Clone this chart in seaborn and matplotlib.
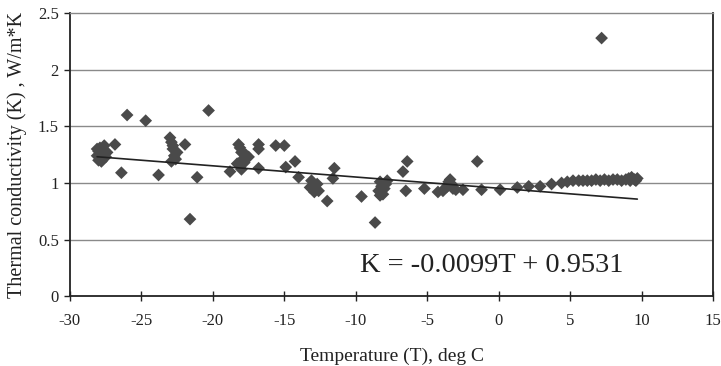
import numpy as np
import pandas as pd
import seaborn as sns
import matplotlib
matplotlib.use("Agg")
import matplotlib.pyplot as plt

# values
temp = [
    # cluster near -28
    -28.0, -28.1, -28.0, -27.9, -27.8, -27.7, -27.6, -27.5, -27.9, -28.1, -27.6, -27.8, -27.4, -27.7,
    -26.85, -26.0, -24.7, -26.4, -23.8, -21.1, -21.6, -20.3,
    # cluster near -23
    -23.0, -22.9, -22.8, -22.7, -22.9, -22.5, -22.8, -21.95, -22.6,
    # cluster near -18
    -18.2, -18.1, -18.0, -17.9, -17.5, -18.0, -18.3, -17.8, -17.7, -18.8,
    -16.8, -16.8, -16.8, -15.6, -15.0, -14.9, -14.25, -14.0,
    # cluster near -13
    -13.1, -13.0, -12.8, -12.9, -12.7, -13.2, -12.6,
    -12.0, -11.5, -11.6, -9.6, -8.65,
    # cluster near -8
    -8.3, -8.2, -8.4, -8.1, -7.9, -8.0, -7.8, -8.3,
    -6.4, -6.7, -6.5, -5.2, -4.25,
    # cluster near -3.5
    -3.9, -3.6, -3.5, -3.3, -3.2, -3.0, -3.4, -3.7,
    -2.5, -1.5, -1.2, 0.1, 1.3, 2.1, 2.9, 3.7,
    4.4, 4.8, 5.2, 5.6, 5.9, 6.2, 6.5, 6.8, 7.1, 7.4, 7.7, 8.0, 8.3, 8.6, 8.9,
    9.1, 9.3, 9.5, 9.7, 9.2, 9.6,
    7.2,
]
cond = [
    1.20, 1.24, 1.28, 1.31, 1.22, 1.26, 1.29, 1.23, 1.25, 1.30, 1.33, 1.19, 1.27, 1.21,
    1.34, 1.60, 1.55, 1.09, 1.07, 1.05, 0.68, 1.64,
    1.40, 1.36, 1.30, 1.24, 1.19, 1.27, 1.33, 1.34, 1.21,
    1.34, 1.31, 1.27, 1.21, 1.23, 1.12, 1.17, 1.18, 1.25, 1.10,
    1.34, 1.30, 1.13, 1.33, 1.33, 1.14, 1.19, 1.05,
    1.02, 0.98, 0.95, 0.92, 0.99, 0.96, 0.93,
    0.84, 1.13, 1.04, 0.88, 0.65,
    1.01, 0.97, 0.93, 0.90, 0.99, 0.95, 1.02, 0.89,
    1.19, 1.10, 0.93, 0.95, 0.92,
    0.93, 0.97, 1.01, 0.99, 0.95, 0.94, 1.03, 0.96,
    0.94, 1.19, 0.94, 0.94, 0.96, 0.97, 0.97, 0.99,
    1.00, 1.01, 1.02, 1.02, 1.02, 1.02, 1.02, 1.03, 1.02, 1.03, 1.02, 1.03, 1.03, 1.02, 1.03,
    1.04, 1.05, 1.03, 1.04, 1.02, 1.02,
    2.28,
]

slope = -0.0099
intercept = 0.9531
x_ticks = [-30, -25, -20, -15, -10, -5, 0, 5, 10, 15]
y_ticks = [0, 0.5, 1, 1.5, 2, 2.5]

df = pd.DataFrame({"T": temp, "K": cond})
trend = pd.DataFrame({"T": [min(temp), max(temp)]})
trend["K"] = slope * trend["T"] + intercept

sns.set_style("white")
plt.rcParams["font.family"] = ["Liberation Serif", "DejaVu Serif"]
plt.rcParams["axes.unicode_minus"] = False

fig = plt.figure(figsize=(7.21, 3.66), dpi=100)
ax = fig.add_axes([0.097, 0.191, 0.892, 0.773])

sns.scatterplot(data=df, x="T", y="K", marker="D", s=42, color="#4a4a4a",
                edgecolor="none", ax=ax, zorder=3)
sns.lineplot(data=trend, x="T", y="K", color="#222222", lw=1.2, ax=ax, zorder=4)

ax.set_xlim(-30, 15)
ax.set_ylim(0, 2.5)
ax.set_xticks(x_ticks)
ax.set_yticks(y_ticks)
ax.set_yticklabels(["0", "0.5", "1", "1.5", "2", "2.5"])
for yv in y_ticks[1:-1]:
    ax.axhline(yv, color="#8a8a8a", lw=1.0, zorder=1)

for sp in ax.spines.values():
    sp.set_visible(True)
    sp.set_color("#222222")
    sp.set_linewidth(1.3)
ax.spines["top"].set_color("#888888")
ax.spines["top"].set_linewidth(1.0)

ax.tick_params(axis="x", direction="inout", length=7, width=1, colors="#222222",
               labelsize=12, pad=9, bottom=True)
ax.tick_params(axis="y", direction="out", length=4, width=1, colors="#222222",
               labelsize=12, pad=4, left=True)

ax.set_xlabel("Temperature (T), deg C", fontsize=14, labelpad=13, color="#222222")
ax.set_ylabel("Thermal conductivity (K) , W/m*K", fontsize=14.5, labelpad=8, color="#222222")

ax.text(-9.7, 0.27, "K = -0.0099T + 0.9531", fontsize=20.5, color="#222222", va="center")

fig.savefig("out.png", dpi=100)
